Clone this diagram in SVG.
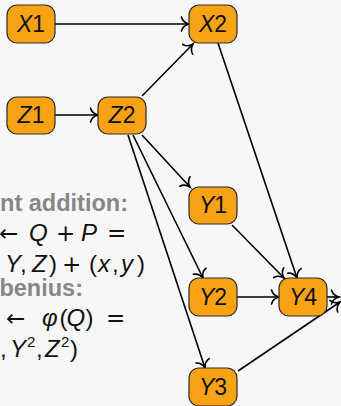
<svg xmlns="http://www.w3.org/2000/svg" width="341" height="406" viewBox="0 0 341 406">
  <defs>
    <style>
      .node rect { fill: #f9a214; stroke: #2b2b2b; stroke-width: 1.2; }
      .node text { font-family: "Liberation Sans", Arial, sans-serif; font-size: 23px; text-anchor: middle; fill: #111; }
      .v { font-style: italic; }
      .edges path { fill: none; stroke: #000; stroke-width: 1.6; marker-end: url(#to); }
      .head { font-family: "Liberation Sans", Arial, sans-serif; font-size: 23.5px; font-weight: bold; fill: #878787; text-anchor: end; }
      .math { font-family: "Liberation Sans", Arial, sans-serif; font-size: 24px; fill: #111; }
      .op { font-family: "DejaVu Sans", sans-serif; font-size: 23px; }
      .sup { font-size: 15px; }
    </style>
    <marker id="to" markerUnits="userSpaceOnUse" viewBox="-10 -10 12 20" refX="0" refY="0" markerWidth="12" markerHeight="20" orient="auto" overflow="visible">
      <path d="M-7.5,-7 C-6.5,-3 -3,-0.8 0,0 C-3,0.8 -6.5,3 -7.5,7" fill="none" stroke="#000" stroke-width="1.6" stroke-linecap="round"/>
    </marker>
  </defs>

  <rect x="0" y="0" width="341" height="406" fill="#f7f7f7"/>

  <!-- side text: point addition and Frobenius -->
  <g id="formulas">
    <text class="head" x="128" y="211">nt addition:</text>
    <text class="math" y="241"><tspan class="op" x="-1">←</tspan><tspan class="v" x="29">Q</tspan><tspan class="op" x="56">+</tspan><tspan class="v" x="81">P</tspan><tspan class="op" x="107">=</tspan></text>
    <text class="math" y="272"><tspan class="v" x="5">Y</tspan><tspan x="20">,</tspan><tspan class="v" x="32">Z</tspan><tspan x="49">)</tspan><tspan class="op" x="62">+</tspan><tspan x="89">(</tspan><tspan class="v" x="98">x</tspan><tspan x="112">,</tspan><tspan class="v" x="121">y</tspan><tspan x="137">)</tspan></text>
    <text class="head" x="83" y="296">benius:</text>
    <text class="math" y="326"><tspan class="op" x="6">←</tspan><tspan class="v" x="42">φ</tspan><tspan x="59.5">(</tspan><tspan class="v" x="66.5">Q</tspan><tspan x="85.5">)</tspan><tspan class="op" x="106">=</tspan></text>
    <text class="math" y="357"><tspan x="0">,</tspan><tspan class="v" x="10">Y</tspan><tspan class="sup" x="27" dy="-10">2</tspan><tspan x="36" dy="10">,</tspan><tspan class="v" x="45">Z</tspan><tspan class="sup" x="61" dy="-10">2</tspan><tspan x="70" dy="10">)</tspan></text>
  </g>

  <g class="edges" id="connectors">
    <path d="M55,24 L189,24"/>
    <path d="M55,115 L98,115"/>
    <path d="M142,96 L193,44"/>
    <path d="M218,43 L297,278"/>
    <path d="M142,135 L190,187"/>
    <path d="M133,135 L203,278"/>
    <path d="M128,135 L205,368"/>
    <path d="M232,225 L284,278"/>
    <path d="M237,297 L279,297"/>
    <path d="M327,297 L339,297"/>
    <path d="M238,371 L340,302"/>
  </g>

  <g class="node" id="X1"><rect x="7" y="5" width="48" height="38" rx="10"/><text x="31" y="32"><tspan class="v">X</tspan>1</text></g>
  <g class="node" id="X2"><rect x="189" y="5" width="48" height="38" rx="10"/><text x="213" y="32"><tspan class="v">X</tspan>2</text></g>
  <g class="node" id="Z1"><rect x="7" y="97" width="48" height="37" rx="10"/><text x="31" y="123"><tspan class="v">Z</tspan>1</text></g>
  <g class="node" id="Z2"><rect x="98" y="97" width="48" height="37" rx="10"/><text x="122" y="123"><tspan class="v">Z</tspan>2</text></g>
  <g class="node" id="Y1"><rect x="189" y="187" width="48" height="37" rx="10"/><text x="213" y="213"><tspan class="v">Y</tspan>1</text></g>
  <g class="node" id="Y2"><rect x="189" y="278" width="48" height="38" rx="10"/><text x="213" y="305"><tspan class="v">Y</tspan>2</text></g>
  <g class="node" id="Y4"><rect x="279" y="278" width="48" height="38" rx="10"/><text x="303" y="305"><tspan class="v">Y</tspan>4</text></g>
  <g class="node" id="Y3"><rect x="189" y="368" width="48" height="38" rx="10"/><text x="213" y="395"><tspan class="v">Y</tspan>3</text></g>
</svg>
